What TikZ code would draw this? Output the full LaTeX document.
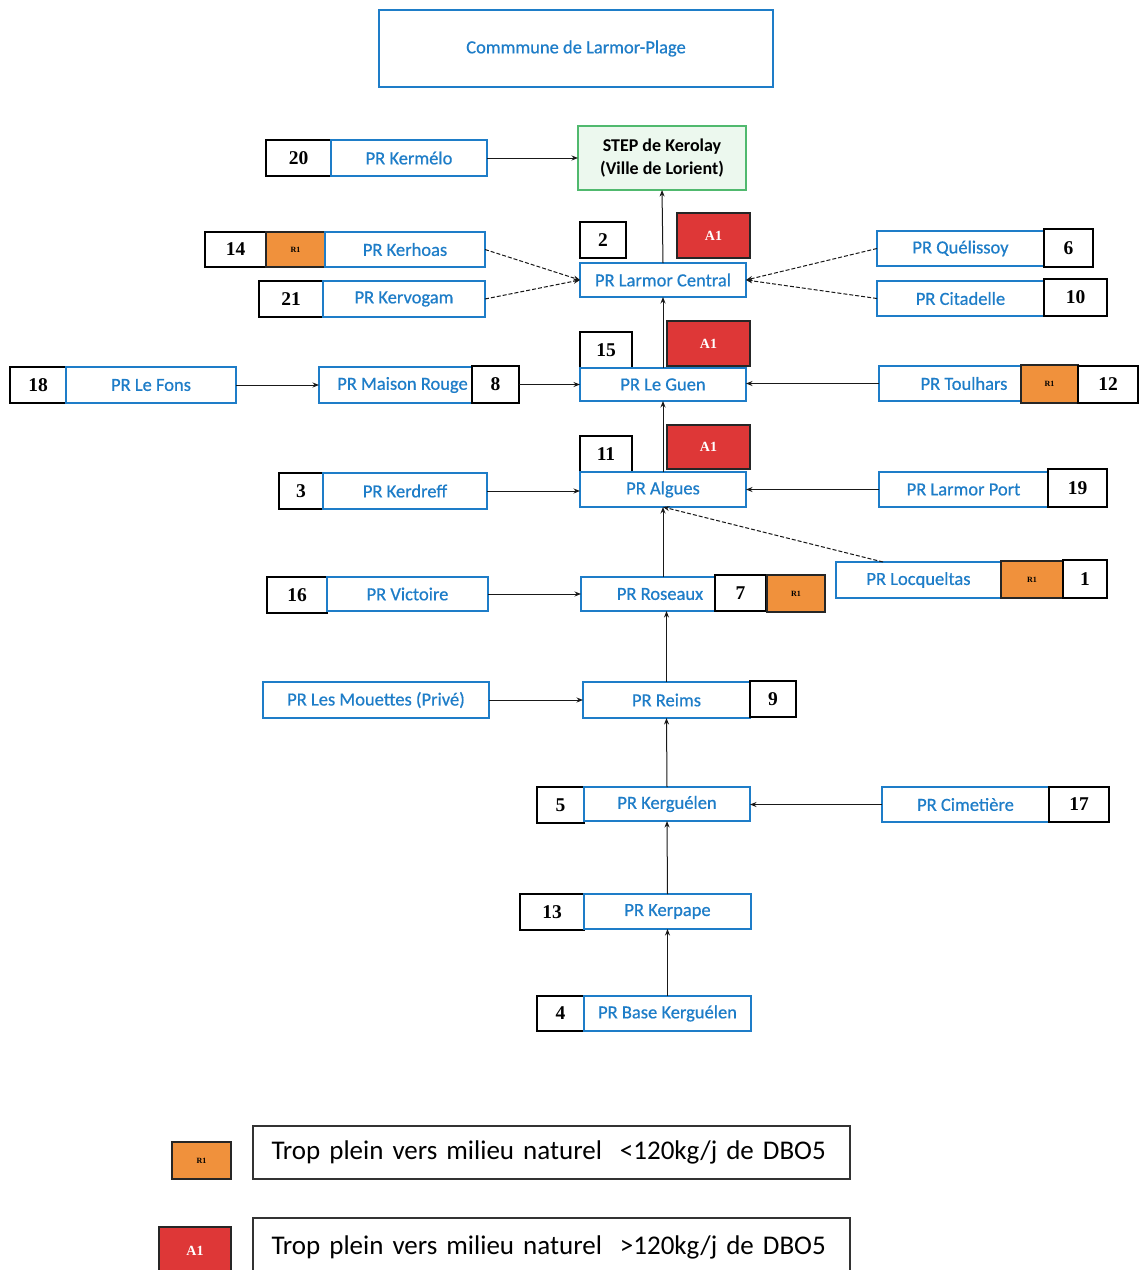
\documentclass[tikz,border=0pt]{standalone}
\usepackage{fontspec}
\setmainfont{Carlito}
\newfontfamily\blueFont[FakeBold=0.6]{Carlito}
\newfontfamily\numfont{Liberation Serif}
\usetikzlibrary{arrows.meta}
\definecolor{pblue}{RGB}{30,125,200}
\definecolor{porange}{RGB}{240,145,60}
\definecolor{pred}{RGB}{222,55,55}
\definecolor{pgreen}{RGB}{80,185,110}
\definecolor{pgreenfill}{RGB}{236,248,238}
\newcommand\boxat[7]{\node[#2, minimum width={#5-#3}, minimum height={#6-#4}] (#1) at ({(#3+#5)/2},{(#4+#6)/2}) {#7};}
\tikzset{
  base/.style={rectangle, inner sep=0pt, outer sep=0pt, align=center},
  pr/.style={base, draw=pblue, line width=1.3pt, fill=white, text=pblue, font=\blueFont\fontsize{18.5}{21}\selectfont},
  num/.style={base, draw=black, line width=1.4pt, fill=white, font=\numfont\bfseries\fontsize{19.5}{22}\selectfont},
  rone/.style={base, draw=black!85, line width=2.6pt, fill=porange, font=\numfont\bfseries\fontsize{8}{9}\selectfont},
  aone/.style={base, draw=black!85, line width=2.8pt, fill=pred, text=white, font=\numfont\bfseries\fontsize{14}{16}\selectfont},
  step2/.style={base, draw=pgreen, line width=1.5pt, fill=pgreenfill, font=\bfseries\fontsize{18}{23}\selectfont},
  legend/.style={base, draw=black!80, line width=1.2pt, fill=white, font=\fontsize{27}{30}\selectfont, align=left, text width=560pt},
  arr/.style={draw=black!90, line width=1pt, -{Stealth[length=6.5pt,width=5pt]}},
  darr/.style={arr, dash pattern=on 4pt off 2pt}
}
\begin{document}
\begin{tikzpicture}[x=1pt,y=-1pt]
\useasboundingbox[fill=white] (0,0) rectangle (1141,1270);
% title
\boxat{title}{pr}{379}{10}{773}{87}{Commmune de Larmor-Plage}
% STEP
\boxat{step}{step2}{578}{126}{746}{190}{STEP de Kerolay\\(Ville de Lorient)}
% row Kermelo
\boxat{n20}{num}{266}{140}{331}{176}{20}
\boxat{kermelo}{pr}{331}{140}{487}{176}{PR Kermélo}
% Larmor central
\boxat{n2}{num}{580}{222}{626}{258}{2}
\boxat{a1lc}{aone}{677}{213}{750}{258}{A1}
\boxat{lc}{pr}{580}{263}{746}{297}{PR Larmor Central}
\boxat{n14}{num}{205}{232}{266}{267}{14}
\boxat{r1kh}{rone}{266}{232}{325}{267}{R1}
\boxat{kerhoas}{pr}{325}{232}{485}{267}{PR Kerhoas}
\boxat{n21}{num}{259}{281}{323}{317}{21}
\boxat{kervogam}{pr}{323}{281}{485}{317}{PR Kervogam}
\boxat{quelissoy}{pr}{877}{231}{1044}{266}{PR Quélissoy}
\boxat{n6}{num}{1044}{229}{1093}{267}{6}
\boxat{citadelle}{pr}{877}{281}{1044}{316}{PR Citadelle}
\boxat{n10}{num}{1044}{279}{1107}{316}{10}
% Le Guen
\boxat{n15}{num}{580}{332}{632}{368}{15}
\boxat{a1lg}{aone}{667}{321}{750}{366}{A1}
\boxat{leguen}{pr}{580}{368}{746}{401}{PR Le Guen}
\boxat{n18}{num}{10}{367}{66}{403}{18}
\boxat{lefons}{pr}{66}{367}{236}{403}{PR Le Fons}
\boxat{maison}{pr}{319}{367}{472}{403}{\hspace*{14pt}PR Maison Rouge}
\boxat{n8}{num}{472}{366}{519}{403}{8}
\boxat{toulhars}{pr}{879}{366}{1022}{401}{\hspace*{27pt}PR Toulhars}
\boxat{r1tl}{rone}{1021}{365}{1078}{403}{R1}
\boxat{n12}{num}{1078}{366}{1138}{403}{12}
% Algues
\boxat{n11}{num}{580}{436}{632}{472}{11}
\boxat{a1al}{aone}{667}{425}{750}{469}{A1}
\boxat{algues}{pr}{580}{472}{746}{507}{PR Algues}
\boxat{n3}{num}{279}{473}{323}{509}{3}
\boxat{kerdreff}{pr}{323}{473}{487}{509}{PR Kerdreff}
\boxat{larmorport}{pr}{879}{472}{1048}{507}{PR Larmor Port}
\boxat{n19}{num}{1048}{469}{1107}{507}{19}
% Locqueltas
\boxat{locq}{pr}{836}{562}{1001}{598}{PR Locqueltas}
\boxat{r1lq}{rone}{1001}{561}{1063}{598}{R1}
\boxat{n1}{num}{1063}{560}{1107}{598}{1}
% Roseaux
\boxat{roseaux}{pr}{581}{577}{715}{611}{\hspace*{24pt}PR Roseaux}
\boxat{n7}{num}{715}{575}{766}{611}{7}
\boxat{r1rs}{rone}{767}{575}{825}{612}{R1}
\boxat{n16}{num}{267}{577}{327}{613}{16}
\boxat{victoire}{pr}{327}{577}{488}{611}{PR Victoire}
% Reims
\boxat{mouettes}{pr}{263}{682}{489}{718}{PR Les Mouettes (Privé)}
\boxat{reims}{pr}{583}{682}{750}{718}{PR Reims}
\boxat{n9}{num}{750}{681}{796}{717}{9}
% Kerguelen
\boxat{n5}{num}{537}{787}{584}{823}{5}
\boxat{kerguelen}{pr}{584}{787}{750}{821}{PR Kerguélen}
\boxat{cimetiere}{pr}{882}{787}{1049}{822}{PR Cimetière}
\boxat{n17}{num}{1049}{787}{1109}{822}{17}
% Kerpape
\boxat{n13}{num}{520}{894}{584}{930}{13}
\boxat{kerpape}{pr}{584}{894}{751}{929}{PR Kerpape}
\boxat{n4}{num}{537}{996}{584}{1031}{4}
\boxat{base}{pr}{584}{996}{751}{1031}{PR Base Kerguélen}
% legend
\boxat{legr1}{rone}{172}{1142}{231}{1179}{R1}
\boxat{legbox1}{legend}{253}{1126}{850}{1179}{Trop plein vers milieu naturel \ <120kg/j de DBO5}
\boxat{lega1}{aone}{159}{1227}{231}{1274}{A1}
\boxat{legbox2}{legend}{253}{1218}{850}{1276}{Trop plein vers milieu naturel \ >120kg/j de DBO5}
% connectors
\draw[arr] (kermelo.east) -- (step.west |- kermelo.east);
\draw[arr] (lc.north) -- (step.south);
\draw[darr] (kerhoas.east) -- (lc.west);
\draw[darr] (kervogam.east) -- (lc.west);
\draw[darr] (quelissoy.west) -- (lc.east);
\draw[darr] (citadelle.west) -- (lc.east);
\draw[arr] (leguen.north) -- (lc.south);
\draw[arr] (lefons.east) -- (maison.west |- lefons.east);
\draw[arr] (n8.east) -- (leguen.west |- n8.east);
\draw[arr] (toulhars.west) -- (leguen.east |- toulhars.west);
\draw[arr] (algues.north) -- (leguen.south);
\draw[arr] (kerdreff.east) -- (algues.west |- kerdreff.east);
\draw[arr] (larmorport.west) -- (algues.east);
\coordinate (lqtop) at ([xshift=47pt]locq.north west);
\draw[darr] (lqtop) -- (algues.south);
\draw[arr] (algues.south |- roseaux.north) -- (algues.south);
\draw[arr] (victoire.east) -- (roseaux.west |- victoire.east);
\draw[arr] (reims.north) -- (reims.north |- roseaux.south);
\draw[arr] (mouettes.east) -- (reims.west |- mouettes.east);
\draw[arr] (kerguelen.north) -- (reims.south);
\draw[arr] (cimetiere.west) -- (kerguelen.east |- cimetiere.west);
\draw[arr] (kerpape.north) -- (kerguelen.south);
\draw[arr] (base.north) -- (kerpape.south);
\end{tikzpicture}
\end{document}
